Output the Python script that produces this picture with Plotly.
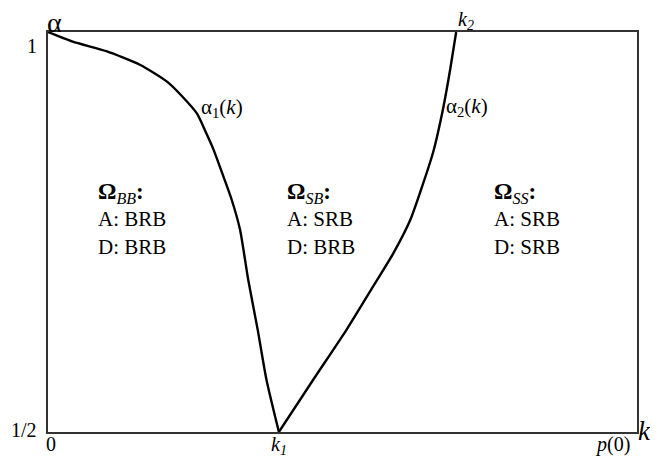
import plotly.graph_objects as go

# k axis runs from 0 to p(0) (scaled to 1), alpha from 1/2 to 1
K1 = 0.392
K2 = 0.693

alpha1_k = [0.0, 0.042, 0.099, 0.156, 0.202, 0.226, 0.253, 0.269, 0.281, 0.298,
            0.312, 0.326, 0.340, 0.356, 0.371, K1]
alpha1_a = [1.0, 0.988, 0.976, 0.959, 0.938, 0.921, 0.898, 0.873, 0.853, 0.819,
            0.790, 0.753, 0.690, 0.628, 0.565, 0.5]

alpha2_k = [K1, 0.450, 0.507, 0.552, 0.586, 0.615, 0.632, 0.654, 0.671, 0.683, K2]
alpha2_a = [0.5, 0.565, 0.628, 0.682, 0.723, 0.765, 0.800, 0.850, 0.905, 0.954, 1.0]

region_names = ["BB", "SB", "SS"]
region_rules = [("A: BRB", "D: BRB"), ("A: SRB", "D: BRB"), ("A: SRB", "D: SRB")]
region_x = [0.0815, 0.4024, 0.7538]

SERIF = "Liberation Serif"

fig = go.Figure()
for xs, ys in [(alpha1_k, alpha1_a), (alpha2_k, alpha2_a)]:
    fig.add_trace(go.Scatter(x=xs, y=ys, mode="lines",
                             line=dict(color="black", width=2.4,
                                       shape="spline", smoothing=0.6)))

ann = []


def label(x, y, text, size=20, xanchor="center", yanchor="middle", **kw):
    # x in k units, y in alpha units -> paper coords (labels may sit outside the box)
    ann.append(dict(x=x, y=(y - 0.5) * 2, xref="paper", yref="paper", text=text,
                    showarrow=False, xanchor=xanchor, yanchor=yanchor,
                    font=dict(family=SERIF, size=size, color="black"), **kw))


label(0.0102, 1.0125, "α", size=28)
label(-0.0153, 0.9825, "1", xanchor="right")
label(-0.0153, 0.5025, "1/2", xanchor="right")
label(0.005, 0.485, "0")
label(K1, 0.4835, "<i>k</i><sub><i>1</i></sub>")
label(0.959, 0.485, "<i>p</i>(0)")
label(1.0125, 0.501, "<i>k</i>", size=27)
label(K2 + 0.017, 1.0145, "<i>k</i><sub><i>2</i></sub>")
label(0.256, 0.905, "α<sub>1</sub>(<i>k</i>)", size=21, xanchor="left")
label(0.672, 0.906, "α<sub>2</sub>(<i>k</i>)", size=21, xanchor="left")

for x, name, rules in zip(region_x, region_names, region_rules):
    head = ("<span style='font-size:23px'><b>Ω</b><sub><i>%s</i></sub>"
            "<b>:</b></span>" % name)
    label(x, 0.766, "<br>".join((head,) + rules), size=21, xanchor="left", align="left")

# page body has an 8px margin, so the figure is made 8px smaller and shifted back
fig.update_layout(
    width=650, height=449,
    margin=dict(l=40, r=21, t=24, b=25),
    plot_bgcolor="white", paper_bgcolor="white",
    showlegend=False,
    annotations=ann,
    xaxis=dict(range=[0, 1], showgrid=False, zeroline=False, showticklabels=False,
               ticks="", showline=True, mirror=True, linecolor="#333", linewidth=1.6),
    yaxis=dict(range=[0.5, 1], showgrid=False, zeroline=False, showticklabels=False,
               ticks="", showline=True, mirror=True, linecolor="#333", linewidth=1.6),
)

fig.write_html("out.html")
